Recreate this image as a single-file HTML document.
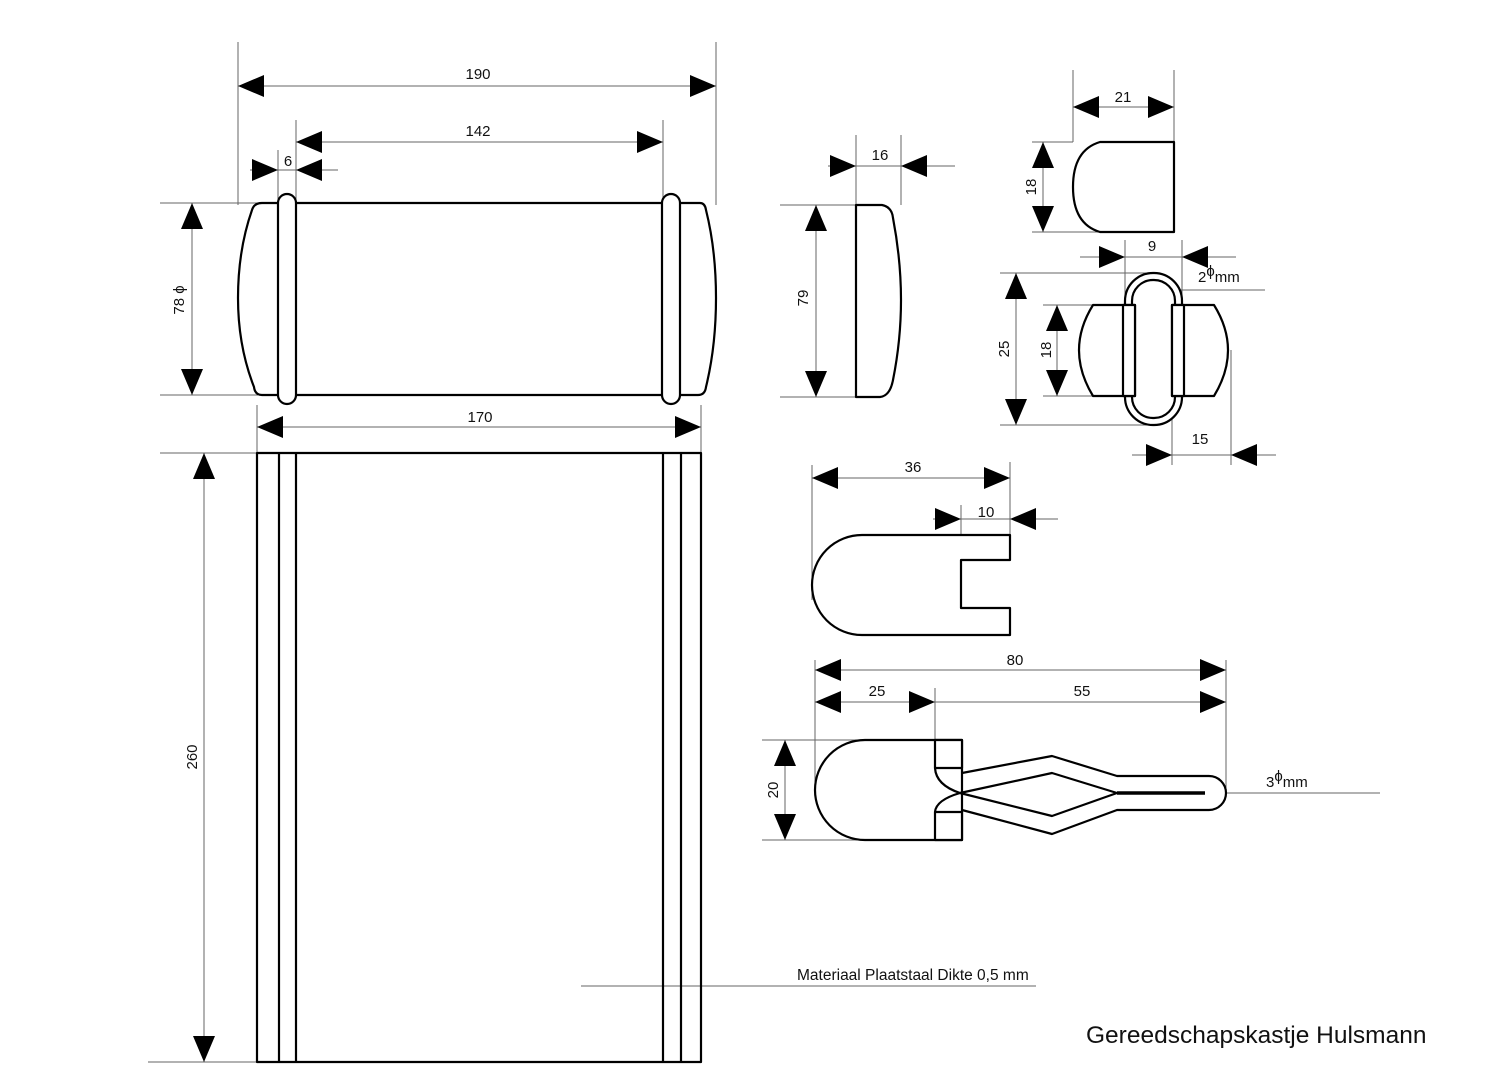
<!DOCTYPE html>
<html><head><meta charset="utf-8"><style>
html,body{margin:0;padding:0;background:#fff;}
svg{display:block;}
text{font-family:"Liberation Sans",sans-serif;fill:#111;}
</style></head><body>
<svg width="1500" height="1091" viewBox="0 0 1500 1091" xmlns="http://www.w3.org/2000/svg">
<rect width="1500" height="1091" fill="#fff"/>
<g stroke="#666" stroke-width="1" fill="none">
<line x1="238" y1="42" x2="238" y2="205"/><line x1="716" y1="42" x2="716" y2="205"/>
<line x1="238" y1="86" x2="716" y2="86"/>
<line x1="296" y1="120" x2="296" y2="200"/><line x1="663" y1="120" x2="663" y2="200"/>
<line x1="296" y1="142" x2="663" y2="142"/>
<line x1="278" y1="150" x2="278" y2="200"/>
<line x1="250" y1="170" x2="338" y2="170"/>
<line x1="160" y1="203" x2="258" y2="203"/><line x1="160" y1="395" x2="258" y2="395"/>
<line x1="192" y1="203" x2="192" y2="395"/>
<line x1="257" y1="405" x2="257" y2="455"/><line x1="701" y1="405" x2="701" y2="455"/>
<line x1="257" y1="427" x2="701" y2="427"/>
<line x1="160" y1="453" x2="257" y2="453"/><line x1="148" y1="1062" x2="257" y2="1062"/>
<line x1="204" y1="453" x2="204" y2="1062"/>
<line x1="581" y1="986" x2="1036" y2="986"/>
<line x1="856" y1="135" x2="856" y2="205"/><line x1="901" y1="135" x2="901" y2="205"/>
<line x1="828" y1="166" x2="955" y2="166"/>
<line x1="780" y1="205" x2="856" y2="205"/><line x1="780" y1="397" x2="856" y2="397"/>
<line x1="816" y1="205" x2="816" y2="397"/>
<line x1="1073" y1="70" x2="1073" y2="142"/><line x1="1174" y1="70" x2="1174" y2="142"/>
<line x1="1073" y1="107" x2="1174" y2="107"/>
<line x1="1032" y1="142" x2="1073" y2="142"/><line x1="1032" y1="232" x2="1100" y2="232"/>
<line x1="1043" y1="142" x2="1043" y2="232"/>
<line x1="1125" y1="240" x2="1125" y2="300"/><line x1="1182" y1="240" x2="1182" y2="300"/>
<line x1="1080" y1="257" x2="1236" y2="257"/>
<line x1="1170" y1="290" x2="1265" y2="290"/>
<line x1="1000" y1="273" x2="1150" y2="273"/><line x1="1000" y1="425" x2="1150" y2="425"/>
<line x1="1016" y1="273" x2="1016" y2="425"/>
<line x1="1043" y1="305" x2="1095" y2="305"/><line x1="1043" y1="396" x2="1095" y2="396"/>
<line x1="1057" y1="305" x2="1057" y2="396"/>
<line x1="1172" y1="400" x2="1172" y2="465"/><line x1="1231" y1="350" x2="1231" y2="465"/>
<line x1="1132" y1="455" x2="1276" y2="455"/>
<line x1="812" y1="465" x2="812" y2="600"/><line x1="1010" y1="462" x2="1010" y2="535"/>
<line x1="812" y1="478" x2="1010" y2="478"/>
<line x1="961" y1="505" x2="961" y2="560"/>
<line x1="933" y1="519" x2="1058" y2="519"/>
<line x1="815" y1="660" x2="815" y2="790"/><line x1="935" y1="688" x2="935" y2="742"/><line x1="1226" y1="660" x2="1226" y2="790"/>
<line x1="815" y1="670" x2="1226" y2="670"/>
<line x1="815" y1="702" x2="1226" y2="702"/>
<line x1="762" y1="740" x2="865" y2="740"/><line x1="762" y1="840" x2="865" y2="840"/>
<line x1="785" y1="740" x2="785" y2="840"/>
<line x1="1225" y1="793" x2="1380" y2="793"/>
</g>
<g fill="#000">
<polygon points="716,86 690,75 690,97"/><polygon points="238,86 264,75 264,97"/>
<polygon points="296,142 322,131 322,153"/><polygon points="663,142 637,131 637,153"/>
<polygon points="278,170 252,159 252,181"/><polygon points="296,170 322,159 322,181"/>
<polygon points="192,203 181,229 203,229"/><polygon points="192,395 181,369 203,369"/>
<polygon points="257,427 283,416 283,438"/><polygon points="701,427 675,416 675,438"/>
<polygon points="204,453 193,479 215,479"/><polygon points="204,1062 193,1036 215,1036"/>
<polygon points="856,166 830,155 830,177"/><polygon points="901,166 927,155 927,177"/>
<polygon points="816,205 805,231 827,231"/><polygon points="816,397 805,371 827,371"/>
<polygon points="1073,107 1099,96 1099,118"/><polygon points="1174,107 1148,96 1148,118"/>
<polygon points="1043,142 1032,168 1054,168"/><polygon points="1043,232 1032,206 1054,206"/>
<polygon points="1125,257 1099,246 1099,268"/><polygon points="1182,257 1208,246 1208,268"/>
<polygon points="1016,273 1005,299 1027,299"/><polygon points="1016,425 1005,399 1027,399"/>
<polygon points="1057,305 1046,331 1068,331"/><polygon points="1057,396 1046,370 1068,370"/>
<polygon points="1172,455 1146,444 1146,466"/><polygon points="1231,455 1257,444 1257,466"/>
<polygon points="812,478 838,467 838,489"/><polygon points="1010,478 984,467 984,489"/>
<polygon points="961,519 935,508 935,530"/><polygon points="1010,519 1036,508 1036,530"/>
<polygon points="815,670 841,659 841,681"/><polygon points="1226,670 1200,659 1200,681"/>
<polygon points="815,702 841,691 841,713"/><polygon points="935,702 909,691 909,713"/>
<polygon points="1226,702 1200,691 1200,713"/>
<polygon points="785,740 774,766 796,766"/><polygon points="785,840 774,814 796,814"/>
</g>
<g stroke="#000" stroke-width="2.2" fill="#fff" stroke-linejoin="round">
<path d="M262,203 L700,203 Q705,203 706,210 Q716,250 716,298 Q716,346 706,387 Q705,395 698,395 L262,395 Q255,395 254,387 Q238,346 238,298 Q238,250 252,210 Q254,203 262,203 Z"/>
<rect x="278" y="194" width="18" height="210" rx="9"/>
<rect x="662" y="194" width="18" height="210" rx="9"/>
<rect x="257" y="453" width="444" height="609" fill="none"/>
<line x1="279" y1="453" x2="279" y2="1062"/><line x1="296" y1="453" x2="296" y2="1062"/>
<line x1="663" y1="453" x2="663" y2="1062"/><line x1="681" y1="453" x2="681" y2="1062"/>
<path d="M856,205 L882,205 Q892,207 893,218 Q901,260 901,300 Q901,340 893,380 Q890,396 880,397 L856,397 Z"/>
<path d="M1174,142 L1100,142 Q1073,150 1073,187 Q1073,224 1100,232 L1174,232 Z"/>
<rect x="1125" y="273" width="57" height="152" rx="28"/>
<rect x="1132" y="280" width="43" height="138" rx="21"/>
<path d="M1135,305 L1093,305 Q1065,350 1093,396 L1135,396 Z"/>
<path d="M1172,305 L1214,305 Q1242,350 1214,396 L1172,396 Z"/>
<rect x="1123" y="305" width="12" height="91"/>
<rect x="1172" y="305" width="12" height="91"/>
<path d="M1010,535 L862,535 A50,50 0 0 0 862,635 L1010,635 L1010,608 L961,608 L961,560 L1010,560 Z"/>
<path d="M962,773 L1052,756 L1117,776 L1209,776 A17,17 0 0 1 1209,810 L1117,810 L1052,834 L962,810" />
<path d="M962,740 L865,740 A50,50 0 0 0 865,840 L962,840 Z"/>
<rect x="935" y="740" width="27" height="28"/>
<rect x="935" y="812" width="27" height="28"/>
<path d="M935,768 Q936,785 960,793 L1052,816 L1117,793" fill="none"/>
<path d="M935,812 Q936,800 960,793 L1052,773 L1117,793" fill="none"/>
<line x1="1117" y1="793" x2="1205" y2="793" stroke-width="3.5"/>
</g>
<g font-size="15" text-anchor="middle">
<text x="478" y="79">190</text>
<text x="478" y="136">142</text>
<text x="288" y="166">6</text>
<text x="480" y="422">170</text>
<text x="880" y="160">16</text>
<text x="1123" y="102">21</text>
<text x="1152" y="251">9</text>
<text x="1200" y="444">15</text>
<text x="913" y="472">36</text>
<text x="986" y="517">10</text>
<text x="1015" y="665">80</text>
<text x="877" y="696">25</text>
<text x="1082" y="696">55</text>
<text transform="translate(184,300) rotate(-90)">78 ϕ</text>
<text transform="translate(197,757) rotate(-90)">260</text>
<text transform="translate(808,298) rotate(-90)">79</text>
<text transform="translate(1036,187) rotate(-90)">18</text>
<text transform="translate(1009,349) rotate(-90)">25</text>
<text transform="translate(1051,350) rotate(-90)">18</text>
<text transform="translate(778,790) rotate(-90)">20</text>
</g>
<text x="1198" y="282" font-size="15">2<tspan dy="-6">ϕ</tspan><tspan dy="6">mm</tspan></text>
<text x="1266" y="787" font-size="15">3<tspan dy="-6">ϕ</tspan><tspan dy="6">mm</tspan></text>
<text x="797" y="980" font-size="15.5">Materiaal Plaatstaal Dikte 0,5 mm</text>
<text x="1086" y="1043" font-size="24.5">Gereedschapskastje Hulsmann</text>
</svg>
</body></html>
